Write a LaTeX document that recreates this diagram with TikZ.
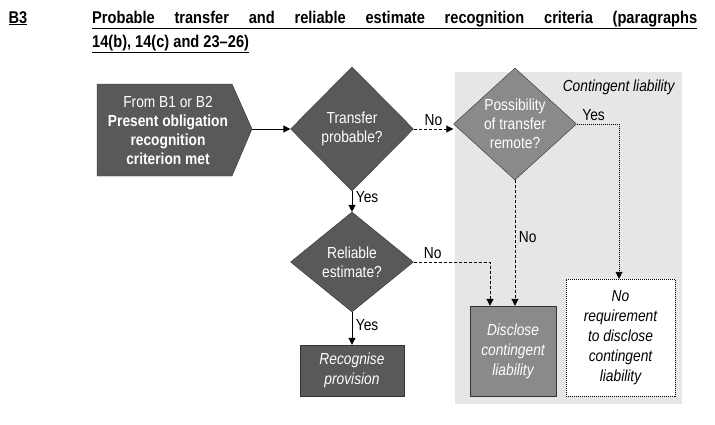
\documentclass[tikz,border=0pt]{standalone}
\usepackage{fontspec}
\setmainfont{Liberation Sans}[FakeStretch=0.86]
\usetikzlibrary{shapes.geometric,shapes.symbols,arrows.meta}
\definecolor{dk}{HTML}{58595B}
\definecolor{md}{HTML}{8A8A8C}
\definecolor{bg}{HTML}{E6E6E7}
\begin{document}
\begin{tikzpicture}[x=1pt,y=-1pt,font=\fontsize{16}{19}\selectfont,
  dia/.style={diamond,draw=black!80,fill=#1,text=white,align=center,inner sep=0pt,minimum width=123pt,minimum height=124pt,font=\fontsize{16}{19}\selectfont},
  box/.style={draw=black!80,fill=#1,text=white,align=center,font=\fontsize{16}{20}\selectfont\itshape},
  arr/.style={-{Triangle[length=7pt,width=7pt]},line width=1pt},
  dsh/.style={arr,dash pattern=on 3pt off 2pt},
  dot/.style={arr,line width=0.8pt,dash pattern=on 1pt off 1pt},
  lab/.style={font=\fontsize{16}{19}\selectfont}]
\useasboundingbox (0,0) rectangle (715,424);
\node[anchor=base west,font=\bfseries\fontsize{17}{19}\selectfont] (b3) at (5,23) {\underline{B3}};
\node[anchor=base west,font=\bfseries\fontsize{17}{19}\selectfont,inner sep=0pt] (t1) at (92,23) {\underline{\makebox[605pt][s]{Probable transfer and reliable estimate recognition criteria (paragraphs}}};
\node[anchor=base west,font=\bfseries\fontsize{17}{19}\selectfont,inner sep=0pt] (t2) at (92,47) {\underline{14(b), 14(c) and 23--26)}};
\fill[bg] (455,72) rectangle (682,404);
\node[anchor=base east,font=\itshape\fontsize{16}{19}\selectfont] (cl) at (678,91) {Contingent liability};
\draw[draw=black!80,fill=dk] (97,84) -- (232,84) -- (252,129) -- (232,176) -- (97,176) -- cycle;
\node[text=white,align=center,font=\fontsize{16}{19}\selectfont] (st) at (168,130) {From B1 or B2\\\textbf{Present obligation}\\\textbf{recognition}\\\textbf{criterion met}};
\coordinate (stp) at (252,129);
\node[dia=dk] (d1) at (352,129) {Transfer\\probable?};
\node[dia=md,minimum height=112pt] (d2) at (515,124) {Possibility\\of transfer\\remote?};
\node[dia=dk,minimum height=100pt] (d3) at (352,262) {Reliable\\estimate?};
\node[box=dk,minimum width=104pt,minimum height=51pt] (rp) at (352,370.5) {Recognise\\provision};
\node[box=md,minimum width=86pt,minimum height=90pt] (dc) at (513,351) {Disclose\\contingent\\liability};
\node[box=white,text=black,draw=black,dash pattern=on 1pt off 1pt,minimum width=109pt,minimum height=117pt] (nr) at (620.5,337.5) {No\\requirement\\to disclose\\contingent\\liability};
\coordinate (c1) at (490,262);
\coordinate (c2) at (619,124);
\draw[arr] (stp) -- (d1.west);
\draw[dsh] (d1.east) -- (d1.east -| d2.west) node[lab,midway,above] {No};
\draw[arr] (d1.south) -- (d3.north) node[lab,pos=0.3,right] {Yes};
\draw[arr] (d3.south) -- (rp.north) node[lab,pos=0.4,right] {Yes};
\draw[dsh] (d3.east) -- (c1) node[lab,pos=0.25,above] {No} -- (c1 |- dc.north);
\draw[dsh] (d2.south) -- (d2.south |- dc.north) node[lab,pos=0.45,right] {No};
\draw[dot] (d2.east) -- (c2) node[lab,pos=0.4,above] {Yes} -- (c2 |- nr.north);
\end{tikzpicture}
\end{document}
